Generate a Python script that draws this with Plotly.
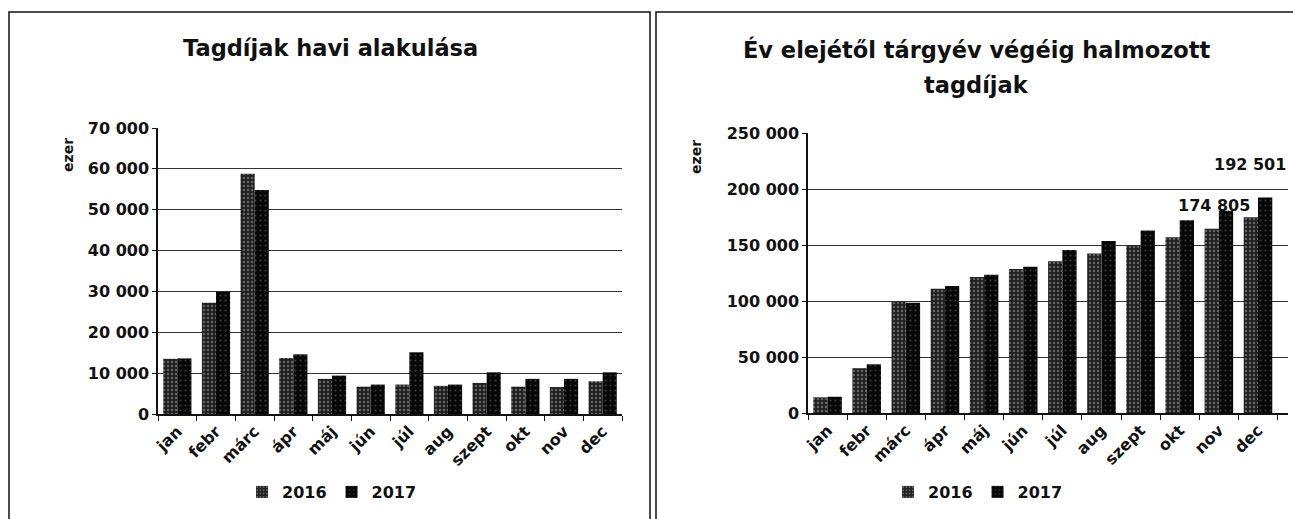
import plotly.graph_objects as go

months = ["jan", "febr", "márc", "ápr", "máj", "jún", "júl", "aug", "szept", "okt", "nov", "dec"]
series_names = ["2016", "2017"]

monthly_2016 = [13500, 27200, 58800, 13700, 8600, 6700, 7200, 6900, 7600, 6700, 6600, 8000]
monthly_2017 = [13600, 29900, 54800, 14600, 9400, 7200, 15100, 7200, 10200, 8600, 8600, 10200]

cumul_2016 = [14000, 40000, 99500, 111000, 121500, 128500, 135500, 142500, 150000, 157000, 164500, 174805]
cumul_2017 = [14500, 43500, 98500, 113500, 123500, 130500, 145500, 153500, 163000, 172000, 180500, 192501]

left_title = "Tagdíjak havi alakulása"
right_title_1 = "Év elejétől tárgyév végéig halmozott"
right_title_2 = "tagdíjak"
y_title = "ezer"

FONT = "DejaVu Sans"
W, H = 1293, 519

def px(x):
    return x / W

def py(y):
    return 1 - y / H

style_2016 = dict(color="#1f1f1f",
                  pattern=dict(shape=".", fgcolor="#a8a8a8", size=4, solidity=0.3),
                  line=dict(width=0))
style_2017 = dict(color="#070707",
                  pattern=dict(shape=".", fgcolor="#6a6a6a", size=5, solidity=0.15),
                  line=dict(width=0))

fig = go.Figure()
fig.add_trace(go.Bar(x=months, y=monthly_2016, name=series_names[0], marker=style_2016,
                     xaxis="x", yaxis="y", legend="legend"))
fig.add_trace(go.Bar(x=months, y=monthly_2017, name=series_names[1], marker=style_2017,
                     xaxis="x", yaxis="y", legend="legend"))
fig.add_trace(go.Bar(x=months, y=cumul_2016, name=series_names[0], marker=style_2016,
                     xaxis="x2", yaxis="y2", legend="legend2"))
fig.add_trace(go.Bar(x=months, y=cumul_2017, name=series_names[1], marker=style_2017,
                     xaxis="x2", yaxis="y2", legend="legend2"))

bold_font = dict(family=FONT, size=16, color="#111", weight="bold")
xcommon = dict(type="category", tickangle=-45, tickfont=dict(family=FONT, size=16, color="#111", weight="bold"),
               showline=True, linecolor="#111", linewidth=1.5, ticks="outside", automargin=False,
               tickson="boundaries", ticklen=5, tickcolor="#111", showgrid=False)
ycommon = dict(tickformat=",d", tickfont=dict(family=FONT, size=16, color="#111", weight="bold"),
               showline=True, linecolor="#111", automargin=False,
               linewidth=1.5, ticks="outside", ticklen=4, tickcolor="#111",
               showgrid=True, gridcolor="#333", gridwidth=1, zeroline=False)

fig.update_layout(
    width=W, height=H, autosize=False,
    margin=dict(l=0, r=0, t=0, b=0, pad=0),
    paper_bgcolor="white", plot_bgcolor="white",
    separators=", ",
    barmode="group", bargap=0.27, bargroupgap=0.0,
    font=dict(family=FONT, color="#111"),
    xaxis=dict(domain=[px(158), px(622)], anchor="y", **xcommon),
    yaxis=dict(domain=[py(414), py(128)], anchor="x", range=[0, 70000], dtick=10000, **ycommon),
    xaxis2=dict(domain=[px(808), px(1288)], anchor="y2", **xcommon),
    yaxis2=dict(domain=[py(413), py(133)], anchor="x2", range=[0, 250000], dtick=50000, **ycommon),
    legend=dict(orientation="h", x=px(332), xanchor="center", y=py(492), yanchor="middle",
                font=bold_font, itemwidth=30, bgcolor="rgba(0,0,0,0)"),
    legend2=dict(orientation="h", x=px(978), xanchor="center", y=py(492), yanchor="middle",
                 font=bold_font, itemwidth=30, bgcolor="rgba(0,0,0,0)"),
    showlegend=True,
)

title_font = dict(family=FONT, size=22.5, color="#111", weight="bold")
annotations = [
    dict(text=left_title, x=px(330), y=py(48), xref="paper", yref="paper",
         showarrow=False, font=title_font, xanchor="center", yanchor="middle"),
    dict(text=right_title_1, x=px(976), y=py(50), xref="paper", yref="paper",
         showarrow=False, font=title_font, xanchor="center", yanchor="middle"),
    dict(text=right_title_2, x=px(976), y=py(85), xref="paper", yref="paper",
         showarrow=False, font=title_font, xanchor="center", yanchor="middle"),
    dict(text=y_title, x=px(58), y=py(136), xref="paper", yref="paper",
         showarrow=False, textangle=-90, font=dict(family=FONT, size=14, color="#111", weight="bold")),
    dict(text=y_title, x=px(696), y=py(138), xref="paper", yref="paper",
         showarrow=False, textangle=-90, font=dict(family=FONT, size=14, color="#111", weight="bold")),
    dict(text=f"{cumul_2016[-1]:,}".replace(",", " "), x=months[-1], y=cumul_2016[-1],
         xref="x2", yref="y2", showarrow=False, xshift=-44, yshift=12,
         font=dict(family=FONT, size=16, color="#111", weight="bold")),
    dict(text=f"{cumul_2017[-1]:,}".replace(",", " "), x=months[-1], y=cumul_2017[-1],
         xref="x2", yref="y2", showarrow=False, xshift=-8, yshift=33,
         font=dict(family=FONT, size=16, color="#111", weight="bold")),
]
fig.update_layout(annotations=annotations)

shapes = [
    dict(type="rect", xref="paper", yref="paper", x0=px(9), x1=px(650), y0=py(530), y1=py(12),
         line=dict(color="#111", width=1.5)),
    dict(type="rect", xref="paper", yref="paper", x0=px(656), x1=px(1300), y0=py(530), y1=py(12),
         line=dict(color="#111", width=1.5)),
]
fig.update_layout(shapes=shapes)

fig.write_html("out.html", config={"displayModeBar": False},
               post_script="document.body.style.margin='0';document.body.style.overflow='hidden';")
